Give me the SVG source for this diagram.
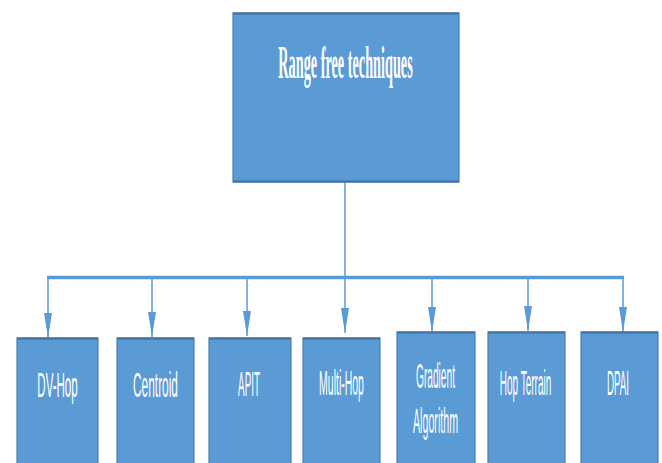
<svg xmlns="http://www.w3.org/2000/svg" width="662" height="463" viewBox="0 0 662 463">
<style>
.box{fill:#5B9BD5;stroke:#4A7EB0;stroke-width:1.2}
.top{fill:none;stroke:#41719C;stroke-width:2}
.lbl{font-family:"Liberation Sans",Arial,sans-serif;font-size:35px;fill:#FFFFFF;text-anchor:middle}
.title{font-family:"Liberation Serif","Times New Roman",serif;font-size:46px;font-weight:bold;fill:#FFFFFF;text-anchor:middle}
.con{stroke:#5B9BD5;stroke-width:1.5;fill:none}
</style>
<defs>
<marker id="ah" viewBox="0 0 25 8" refX="25" refY="4" markerWidth="25" markerHeight="8" markerUnits="userSpaceOnUse" orient="auto">
<path d="M0,0 L25,4 L0,8 z" fill="#5B9BD5"/>
</marker>
</defs>
<rect width="662" height="463" fill="#FFFFFF"/>
<g id="connectors">
<line class="con" x1="345" y1="182" x2="345" y2="277"/>
<line x1="47" y1="277.5" x2="624" y2="277.5" stroke="#5B9BD5" stroke-width="3.5"/>
<line class="con" x1="48" y1="278" x2="48" y2="338" marker-end="url(#ah)"/>
<line class="con" x1="152" y1="278" x2="152" y2="337" marker-end="url(#ah)"/>
<line class="con" x1="247" y1="278" x2="247" y2="336" marker-end="url(#ah)"/>
<line class="con" x1="345" y1="278" x2="345" y2="333" marker-end="url(#ah)"/>
<line class="con" x1="432" y1="278" x2="432" y2="332" marker-end="url(#ah)"/>
<line class="con" x1="528" y1="278" x2="528" y2="331" marker-end="url(#ah)"/>
<line class="con" x1="623" y1="278" x2="623" y2="332" marker-end="url(#ah)"/>
</g>
<g id="root">
<rect class="box" x="233" y="13" width="226" height="169"/>
<line class="top" x1="233" y1="13.5" x2="459" y2="13.5"/>
<line class="top" x1="233" y1="181.5" x2="459" y2="181.5"/>
<text class="title" transform="translate(345.5,78) scale(0.31,1)">Range free techniques</text>
</g>
<g id="dvhop">
<rect class="box" x="17" y="338" width="81" height="130"/>
<line class="top" x1="17" y1="338.5" x2="98" y2="338.5"/>
<text class="lbl" transform="translate(57.5,397) scale(0.33,1)">DV-Hop</text>
</g>
<g id="centroid">
<rect class="box" x="117" y="338" width="77" height="130"/>
<line class="top" x1="117" y1="338.5" x2="194" y2="338.5"/>
<text class="lbl" transform="translate(155.5,397) scale(0.34,1)">Centroid</text>
</g>
<g id="apit">
<rect class="box" x="209" y="338" width="82" height="130"/>
<line class="top" x1="209" y1="338.5" x2="291" y2="338.5"/>
<text class="lbl" transform="translate(249,396) scale(0.28,1)">APIT</text>
</g>
<g id="multihop">
<rect class="box" x="303" y="338" width="77" height="130"/>
<line class="top" x1="303" y1="338.5" x2="380" y2="338.5"/>
<text class="lbl" transform="translate(341.5,395) scale(0.3,1)">Multi-Hop</text>
</g>
<g id="gradient">
<rect class="box" x="397" y="332" width="78" height="136"/>
<line class="top" x1="397" y1="332.5" x2="475" y2="332.5"/>
<text class="lbl" transform="translate(435.5,388) scale(0.29,1)">Gradient</text>
<text class="lbl" transform="translate(435.5,433) scale(0.305,1)">Algorithm</text>
</g>
<g id="hopterrain">
<rect class="box" x="488" y="332" width="77" height="136"/>
<line class="top" x1="488" y1="332.5" x2="565" y2="332.5"/>
<text class="lbl" transform="translate(525.5,395) scale(0.287,1)">Hop Terrain</text>
</g>
<g id="dpai">
<rect class="box" x="581" y="332" width="77" height="136"/>
<line class="top" x1="581" y1="332.5" x2="658" y2="332.5"/>
<text class="lbl" transform="translate(618,395) scale(0.28,1)">DPAI</text>
</g>
</svg>
